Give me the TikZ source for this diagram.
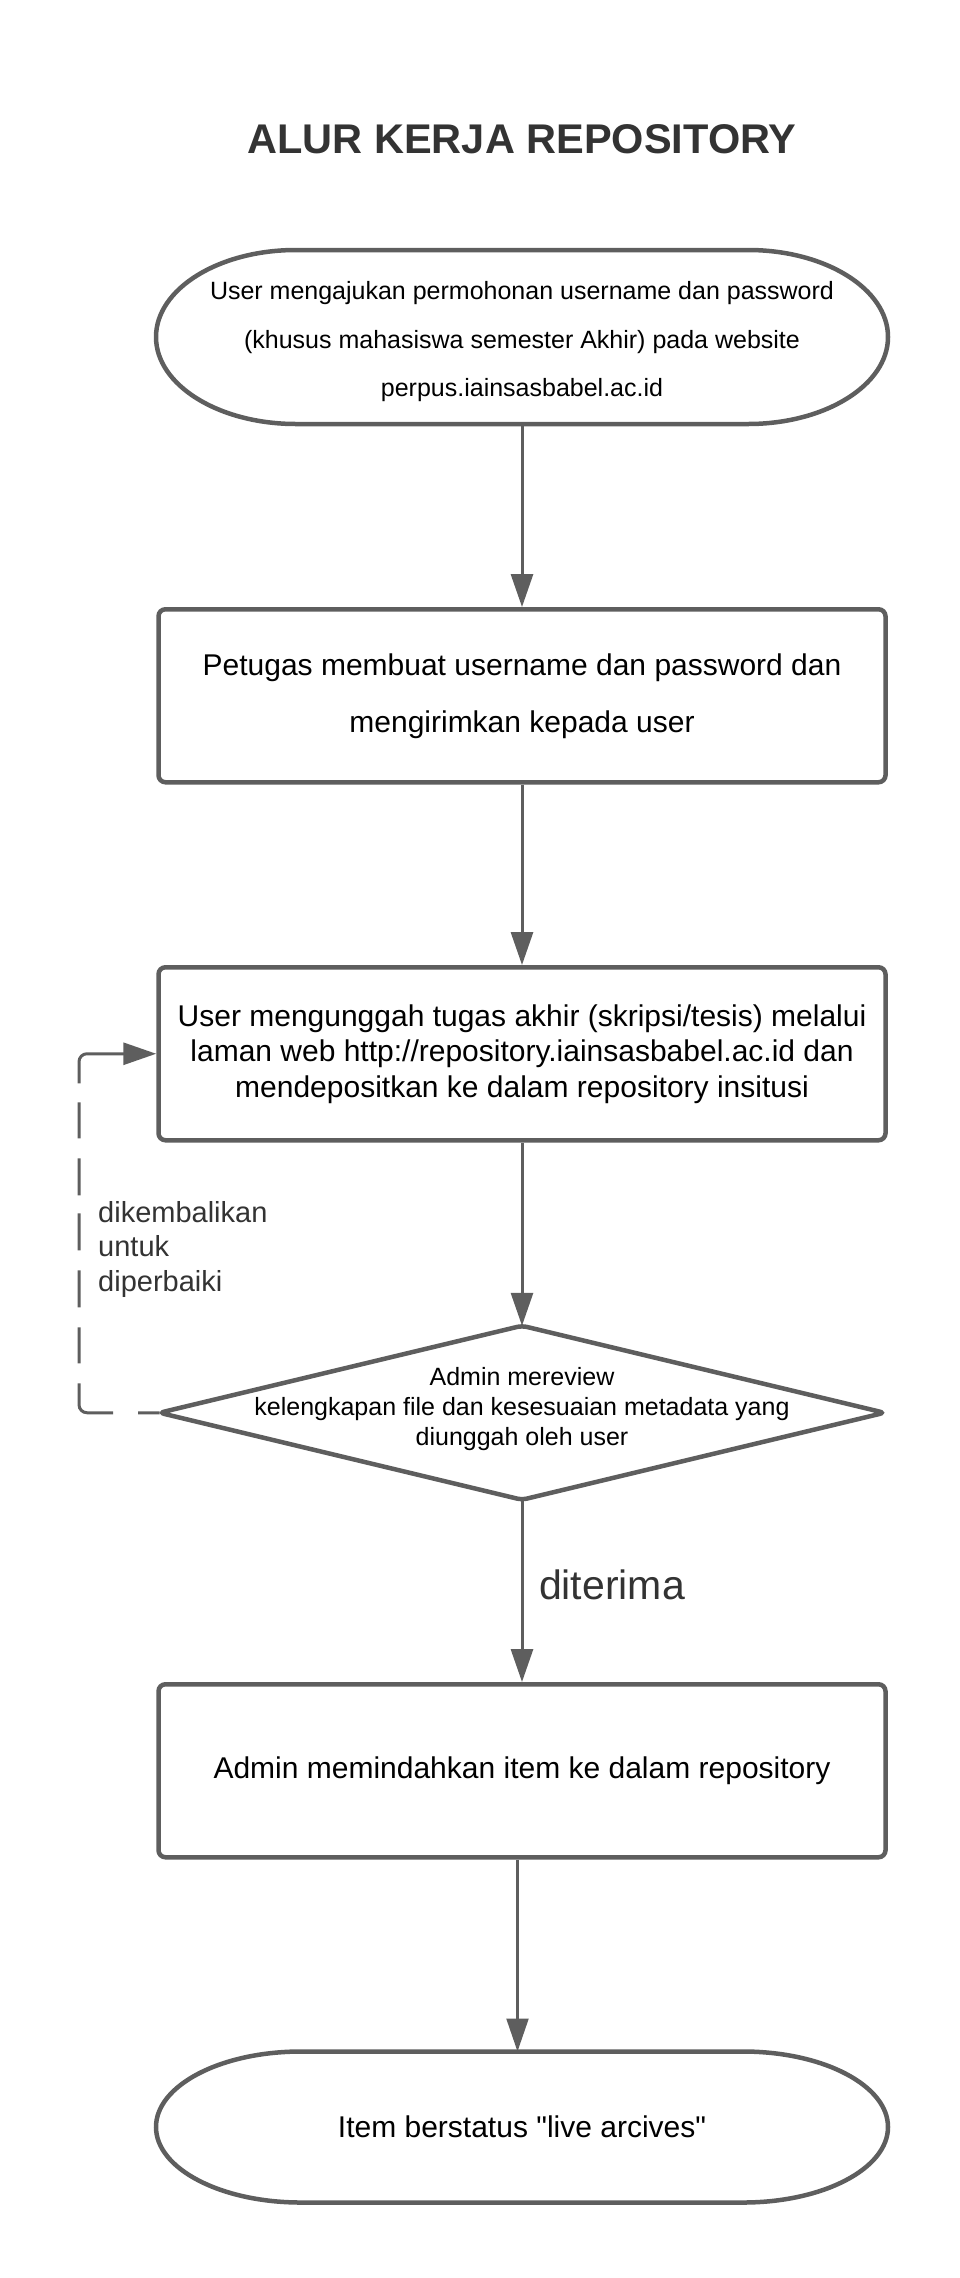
\documentclass[tikz,border=0pt]{standalone}
\usepackage{fontspec}
\setmainfont{Liberation Sans}
\newfontfamily\plainfont{Liberation Sans}
\usetikzlibrary{arrows.meta, positioning, shapes.geometric}
\definecolor{linegray}{HTML}{5E5E5E}
\definecolor{textgray}{HTML}{333333}

\begin{document}
\begin{tikzpicture}[>={Triangle[length=33pt, width=22pt]}, node distance=186pt]
        \useasboundingbox (0,0) rectangle (960pt,-2278pt);

        \tikzstyle{every node}=[inner sep=0pt, align=center]
        \tikzstyle{terminal}=[rectangle, minimum width=732pt, outer sep=0pt]
        \tikzstyle{process}=[rectangle, draw=linegray, line width=4.5pt, rounded corners=7pt, minimum width=727pt, minimum height=173pt, font=\fontsize{30}{36}\selectfont]
        \tikzstyle{decision}=[diamond, draw=linegray, line width=4.5pt, rounded corners=5pt, outer sep=0pt, minimum width=725pt, minimum height=174pt, aspect=4.2]

        % Title
        \node[font=\bfseries\fontsize{41.5}{50}\selectfont, text=textgray] (title) at (522pt,-139pt) {ALUR KERJA REPOSITORY};

        % Nodes
        \node[terminal, minimum height=174pt, font=\fontsize{25}{48.5}\selectfont] (start) at (522pt,-337pt) {\rule{0pt}{28pt}User mengajukan permohonan username dan password\\(khusus mahasiswa semester Akhir) pada website\\perpus.iainsasbabel.ac.id};
        \node[process, font=\fontsize{30}{57}\selectfont] (account) [below=183pt of start] {Petugas membuat username dan password dan\\mengirimkan kepada user};
        \node[process, font=\fontsize{30}{35.5}\selectfont] (upload) [below=180.5pt of account] {User mengunggah tugas akhir (skripsi/tesis) melalui\\laman web http://repository.iainsasbabel.ac.id dan\\mendepositkan ke dalam repository insitusi};
        \node[decision, label={[font=\fontsize{25}{30}\selectfont, align=center, yshift=4pt]center:{Admin mereview\\kelengkapan file dan kesesuaian metadata yang\\diunggah oleh user}}] (review) [below=183.25pt of upload] {};
        \node[process] (move) [below=182.25pt of review] {Admin memindahkan item ke dalam repository};
        \node[terminal, minimum height=151pt, font=\fontsize{30}{36}\selectfont] (finish) [below=192pt of move] {Item berstatus {\plainfont"}live arcives{\plainfont"}};

        % Terminal borders
        \draw[linegray, line width=4.5pt] ([xshift=140pt]start.north west) -- ([xshift=-140pt]start.north east)
              arc[start angle=90, end angle=-90, x radius=140pt, y radius=87pt] -- ([xshift=140pt]start.south west)
              arc[start angle=270, end angle=90, x radius=140pt, y radius=87pt] -- cycle;
        \draw[linegray, line width=4.5pt] ([xshift=145pt]finish.north west) -- ([xshift=-145pt]finish.north east)
              arc[start angle=90, end angle=-90, x radius=145pt, y radius=75.5pt] -- ([xshift=145pt]finish.south west)
              arc[start angle=270, end angle=90, x radius=145pt, y radius=75.5pt] -- cycle;

        % Note on the way back
        \node[align=left, text=textgray, font=\fontsize{29}{34.5}\selectfont, anchor=north west] (backnote) at (98pt,-1201pt) {dikembalikan\\untuk\\diperbaiki};

        % Edges
        \tikzstyle{flow}=[linegray, line width=3pt, ->]
        \tikzstyle{backflow}=[flow, rounded corners=8pt, dash pattern=on 21.5pt off 25pt on 60pt off 20pt on 36pt off 20pt on 37pt off 20pt on 37pt off 18pt on 37pt off 20pt on 36pt off 19pt on 90pt]

        \draw[flow] (start.south) -- (account.north);
        \draw[flow] (account.south) -- (upload.north);
        \draw[flow] (upload.south) -- (review.north);
        \draw[flow] (review.south) -- node[right, xshift=15.5pt, yshift=6pt, text=textgray, font=\fontsize{41}{49}\selectfont] {diterima} (move.north);
        \draw[flow, line width=2.2pt] ([xshift=-4.5pt]move.south) -- ([xshift=-4.5pt]finish.north);

        % sent back for repair
        \draw[backflow] (review.west) -| ([xshift=-77.25pt]upload.west) -- (upload.west);

\end{tikzpicture}
\end{document}
